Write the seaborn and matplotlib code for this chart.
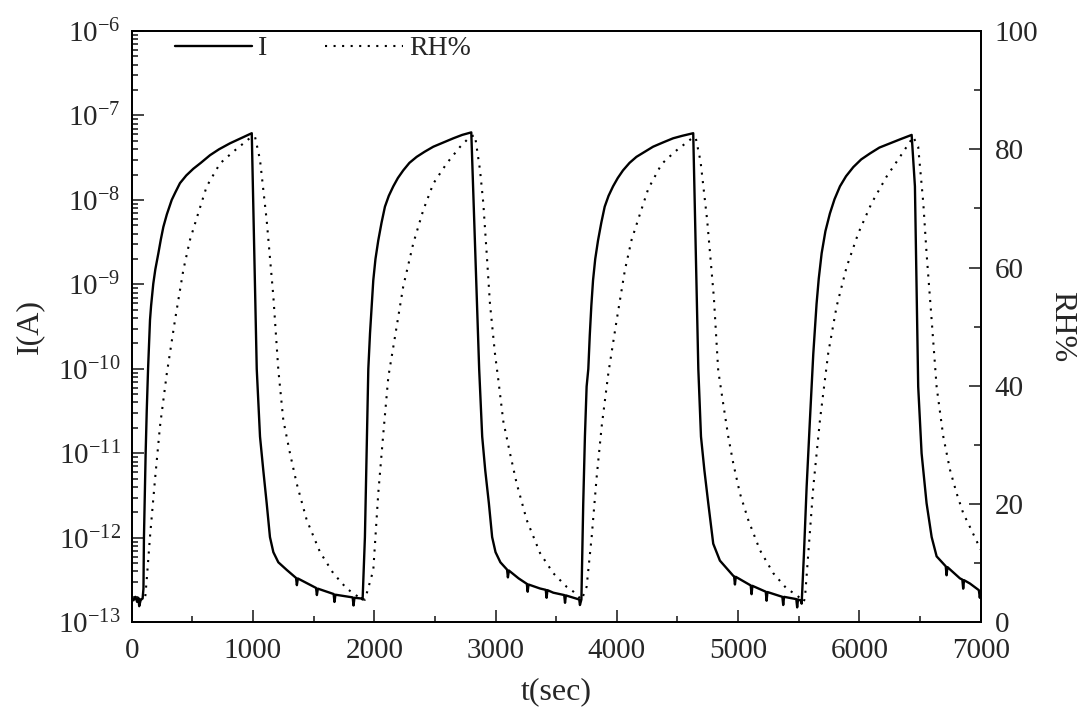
import matplotlib
matplotlib.use('Agg')
import matplotlib.pyplot as plt
from matplotlib.ticker import MultipleLocator, LogLocator, NullFormatter
import seaborn as sns
import numpy as np

# current I (A), four humidity cycles
t_I = [0, 15, 30, 45, 55, 62, 75, 90, 97, 101, 108, 115, 124, 135, 151, 160, 178, 195,
       220, 240, 261, 290, 330, 360, 398, 450, 508, 570, 646, 720, 810, 900, 990,
       1031, 1058, 1085, 1113, 1140, 1168, 1209, 1278,
       1355, 1362, 1370, 1520, 1527, 1535, 1665, 1672, 1680, 1822, 1829, 1837, 1896,
       # cycle 2
       1904, 1923, 1937, 1951, 1965, 1992, 2010, 2033, 2060, 2088, 2120, 2157, 2195,
       2239, 2290, 2350, 2415, 2487, 2570, 2652, 2725, 2800, 2865, 2890, 2915, 2945,
       2972, 3000, 3040, 3095, 3102, 3110, 3190, 3258,
       3265, 3272, 3367, 3414, 3421, 3428, 3476, 3566, 3573, 3580, 3690, 3696, 3708,
       # cycle 3
       3723, 3737, 3751, 3765, 3777, 3790, 3804, 3822, 3845, 3872, 3900, 3932, 3969,
       4008, 4051, 4105, 4162, 4230, 4299, 4380, 4464, 4540, 4630, 4672, 4694, 4722,
       4754, 4795, 4850, 4960, 4967, 4974, 4981, 5104, 5111,
       5118, 5228, 5235, 5242, 5365, 5372, 5379, 5480, 5487, 5494, 5520,
       # cycle 4
       5524, 5543, 5565, 5592, 5620, 5647, 5665, 5689, 5720, 5757, 5795, 5840, 5890,
       5950, 6015, 6087, 6165, 6252, 6340, 6431,
       6458, 6472, 6485, 6513, 6554, 6596, 6637, 6712, 6719, 6726, 6829, 6849, 6856,
       6863, 6911, 6985, 6993, 7000]
I_A = [1.91e-13, 1.82e-13, 2.0e-13, 1.74e-13, 1.95e-13, 1.55e-13, 1.86e-13, 1.91e-13,
       2.51e-13, 1.0e-12, 3.16e-12, 1.0e-11, 3.16e-11, 1.0e-10, 3.8e-10, 5.6e-10,
       1.02e-9, 1.51e-9, 2.34e-9, 3.39e-9, 4.79e-9, 6.76e-9, 1.0e-8, 1.23e-8, 1.58e-8,
       1.95e-8, 2.34e-8, 2.75e-8, 3.39e-8, 3.98e-8, 4.68e-8, 5.37e-8, 6.17e-8,
       1.0e-10, 1.58e-11, 6.31e-12, 2.57e-12, 1.02e-12, 6.76e-13, 5.13e-13, 4.17e-13,
       3.35e-13, 2.75e-13, 3.3e-13, 2.55e-13, 2.1e-13, 2.5e-13, 2.16e-13, 1.74e-13,
       2.12e-13, 1.97e-13, 1.58e-13, 1.95e-13, 1.91e-13,
       1.86e-13, 1.02e-12, 1.0e-11, 1.0e-10, 2.63e-10, 1.12e-9, 2.0e-9, 3.31e-9,
       5.37e-9, 8.32e-9, 1.12e-8, 1.45e-8, 1.82e-8, 2.24e-8, 2.75e-8, 3.24e-8,
       3.72e-8, 4.27e-8, 4.79e-8, 5.37e-8, 5.89e-8, 6.31e-8, 1.0e-10, 1.58e-11,
       6.31e-12, 2.57e-12, 1.02e-12, 6.76e-13, 5.13e-13, 4.2e-13, 3.4e-13, 4.1e-13,
       3.31e-13, 2.85e-13, 2.3e-13, 2.8e-13, 2.51e-13, 2.42e-13, 1.95e-13, 2.4e-13,
       2.24e-13, 2.1e-13, 1.7e-13, 2.08e-13, 1.86e-13, 1.6e-13, 1.86e-13,
       2.51e-12, 1.58e-11, 6.17e-11, 1.0e-10, 2.5e-10, 5.62e-10, 1.12e-9, 2.0e-9,
       3.31e-9, 5.37e-9, 8.32e-9, 1.12e-8, 1.45e-8, 1.82e-8, 2.24e-8, 2.75e-8,
       3.24e-8, 3.72e-8, 4.27e-8, 4.79e-8, 5.37e-8, 5.75e-8, 6.17e-8, 1.0e-10,
       1.58e-11, 6.31e-12, 2.57e-12, 8.51e-13, 5.37e-13, 3.55e-13, 3.5e-13, 2.8e-13,
       3.45e-13, 2.73e-13, 2.15e-13, 2.7e-13, 2.3e-13, 1.8e-13, 2.28e-13, 2.0e-13,
       1.6e-13, 2.0e-13, 1.88e-13, 1.5e-13, 1.86e-13, 1.8e-13,
       1.66e-13, 6.46e-13, 3.98e-12, 2.45e-11, 1.51e-10, 5.89e-10, 1.17e-9, 2.34e-9,
       4.27e-9, 6.92e-9, 1.02e-8, 1.45e-8, 1.91e-8, 2.45e-8, 3.02e-8, 3.55e-8,
       4.17e-8, 4.68e-8, 5.25e-8, 5.89e-8, 1.45e-8, 9.33e-10, 6.17e-11,
       1.0e-11, 2.57e-12, 1.02e-12, 6.03e-13, 4.6e-13, 3.6e-13, 4.5e-13, 3.31e-13,
       3.2e-13, 2.5e-13, 3.15e-13, 2.88e-13, 2.4e-13, 1.95e-13, 2.3e-13]

# relative humidity (%)
t_RH = [0, 95, 110, 125, 151, 192, 233, 289, 357, 426, 481, 549, 618, 728, 838, 975,
        1017, 1058, 1113, 1168, 1209, 1250, 1305, 1360, 1443, 1552, 1662, 1773, 1882,
        1923, 1992, 2033, 2075, 2116, 2171, 2239, 2322, 2404, 2487, 2597, 2707, 2789,
        2830, 2872, 2899, 2927, 2954, 2995, 3023, 3064, 3119, 3174, 3257, 3367, 3476,
        3586, 3641, 3710, 3751, 3793, 3834, 3875, 3930, 3998, 4067, 4122, 4190, 4259,
        4369, 4479, 4616, 4650, 4690, 4745, 4800, 4836, 4877, 4919, 4960, 5015, 5084,
        5180, 5290, 5400, 5483, 5540, 5551, 5579, 5620, 5675, 5743, 5812, 5895, 5991,
        6101, 6225, 6334, 6444, 6485, 6527, 6554, 6596, 6637, 6692, 6747, 6802, 6857,
        6898, 7000]
RH = [4.0, 3.8, 3.8, 7.5, 14.5, 24.1, 33.1, 42.0, 51.1, 59.6, 64.7, 69.2, 73.7, 77.6,
      79.6, 81.9, 82.1, 78.2, 68.0, 55.1, 42.7, 34.2, 28.6, 23.5, 17.3, 11.9, 8.3, 5.7,
      4.1, 3.8, 8.8, 21.8, 32.0, 41.5, 48.3, 56.8, 64.1, 69.7, 74.2, 77.6, 80.4, 82.1,
      82.4, 76.5, 70.9, 62.4, 53.9, 45.5, 41.0, 34.0, 28.6, 23.5, 17.3, 11.7, 8.3,
      6.0, 5.2, 3.8, 6.0, 14.5, 24.6, 33.1, 42.1, 51.0, 59.6, 64.7, 69.0, 73.3,
      77.5, 79.6, 81.8, 82.0, 78.0, 68.0, 55.0, 42.6, 37.0, 31.4, 26.9, 21.8, 17.3,
      12.2, 8.3, 5.7, 4.6, 3.5, 4.0, 11.7, 22.9, 34.2, 45.5, 53.4, 60.1, 65.8,
      70.9, 75.4, 78.7, 82.1, 80.4, 70.9, 62.4, 51.1, 39.8, 31.4, 25.8, 21.8, 18.4,
      16.7, 12.3]

sns.set_style('ticks')
plt.rcParams['font.family'] = ['Liberation Serif', 'DejaVu Serif']
plt.rcParams['mathtext.fontset'] = 'custom'
plt.rcParams['mathtext.rm'] = 'Liberation Serif'
plt.rcParams['mathtext.it'] = 'Liberation Serif:italic'
plt.rcParams['axes.linewidth'] = 1.3

fig = plt.figure(figsize=(10.83, 7.15), dpi=100)
ax = fig.add_axes([0.1216, 0.1297, 0.7839, 0.8269])
ax2 = ax.twinx()

sns.lineplot(x=t_I, y=I_A, ax=ax, color='black', lw=1.7, estimator=None, sort=False)
sns.lineplot(x=t_RH, y=RH, ax=ax2, color='black', lw=1.5, estimator=None, sort=False,
             linestyle=(0, (1, 3.1)))

ax.set_yscale('log')
ax.set_ylim(1e-13, 1e-6)
ax.set_xlim(0, 7000)
ax2.set_ylim(0, 100)

ax.xaxis.set_major_locator(MultipleLocator(1000))
ax.xaxis.set_minor_locator(MultipleLocator(500))
ax.set_yticks([10.0 ** k for k in range(-13, -5)])
ax.yaxis.set_minor_locator(LogLocator(base=10, subs=np.arange(2, 10), numticks=20))
ax.yaxis.set_minor_formatter(NullFormatter())
ax.set_ylim(1e-13, 1e-6)
ax2.yaxis.set_major_locator(MultipleLocator(20))
ax2.yaxis.set_minor_locator(MultipleLocator(10))

ax.tick_params(which='both', direction='in', top=False, right=False, width=1.2,
               labelsize=21)
ax.tick_params(which='major', length=8.5)
ax.tick_params(which='minor', length=4.5)
ax.tick_params(axis='y', pad=8)
ax.tick_params(axis='x', pad=11)
ax2.tick_params(which='both', direction='in', width=1.2, labelsize=21, pad=10)
ax2.tick_params(which='major', length=8.5)
ax2.tick_params(which='minor', length=5)

ax.set_xlabel('t(sec)', fontsize=23, labelpad=10)
ax.set_ylabel('I(A)', fontsize=23, labelpad=10)
ax2.set_ylabel('RH%', fontsize=23, rotation=270, labelpad=27)

for a in (ax, ax2):
    for s in a.spines.values():
        s.set_visible(True)
        s.set_linewidth(1.3)
        s.set_color('black')

h1 = ax.get_lines()[0]
h2 = ax2.get_lines()[0]
ax.legend([h1, h2], ['I', 'RH%'], loc='upper left', bbox_to_anchor=(0.021, 1.034),
          ncol=2, frameon=False, fontsize=20, handlelength=2.8, handletextpad=0.2,
          columnspacing=2.1)

fig.savefig('out.png', dpi=100)
